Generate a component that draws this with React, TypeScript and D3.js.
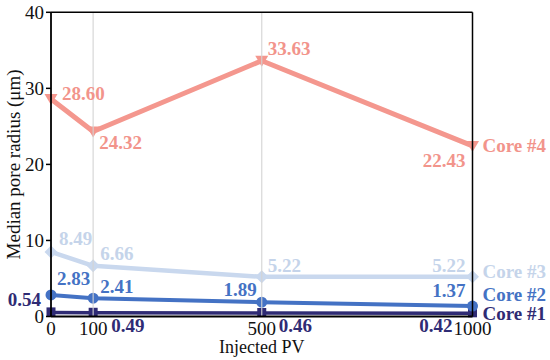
import React from "react";
import * as d3 from "d3";

const injectedPV = [0, 100, 500, 1000];
const xTicks = [0, 100, 500, 1000];
const yTicks = [0, 10, 20, 30, 40];
const gridX = [100, 500];
const seriesNames = ["Core #1", "Core #2", "Core #3", "Core #4"];
const core1 = [0.54, 0.49, 0.46, 0.42];
const core2 = [2.83, 2.41, 1.89, 1.37];
const core3 = [8.49, 6.66, 5.22, 5.22];
const core4 = [28.6, 24.32, 33.63, 22.43];

const W = 550;
const H = 360;
const L = 51, R = 472.5, T = 12.3, B = 316.5;
const FONT = "Times New Roman, Liberation Serif, serif";

type Lab = [number, number, "start" | "end"];

const styles = [
  { color: "#2F2B74", labelColor: "#2F2B74", width: 3.5, marker: "square",
    labels: [[-10, -6, "end"], [18, 19, "start"], [17, 19, "start"], [-20, 19, "end"]] as Lab[], name: [10, 7] },
  { color: "#4472C4", labelColor: "#4472C4", width: 4, marker: "circle",
    labels: [[6, -10, "start"], [7, -5, "start"], [-5, -6, "end"], [-7, -9, "end"]] as Lab[], name: [10, -5] },
  { color: "#C9D8EE", labelColor: "#C5D4EA", width: 4.5, marker: "diamond",
    labels: [[8, -7, "start"], [7, -6, "start"], [6, -5, "start"], [-7, -5, "end"]] as Lab[], name: [10, 1] },
  { color: "#F4978E", labelColor: "#F2948B", width: 5, marker: "triangle",
    labels: [[11, 1, "start"], [6, 17.5, "start"], [6, -6, "start"], [-7, 21, "end"]] as Lab[], name: [10, 6] },
];

const allSeries = [core1, core2, core3, core4];

function Marker({ kind, x, y, color }: { kind: string; x: number; y: number; color: string }) {
  if (kind === "square") return <rect x={x - 4.5} y={y - 5} width={9} height={9} fill={color} />;
  if (kind === "circle") return <circle cx={x} cy={y} r={5.5} fill={color} />;
  if (kind === "diamond")
    return <path d={`M${x},${y - 6.5}L${x + 6.5},${y}L${x},${y + 6.5}L${x - 6.5},${y}Z`} fill={color} />;
  return <path d={`M${x - 6.5},${y - 5}L${x + 6.5},${y - 5}L${x},${y + 6}Z`} fill={color} />;
}

export default function App() {
  const x = d3.scaleLinear().domain([0, 1000]).range([L, R]);
  const y = d3.scaleLinear().domain([0, 40]).range([B, T]);
  const line = d3
    .line<number>()
    .x((_, i) => x(injectedPV[i]))
    .y((d) => y(d));

  return (
    <div style={{ position: "absolute", left: 0, top: 0, fontFamily: FONT }}>
      <svg width={W} height={H} fontFamily={FONT} style={{ display: "block", background: "#fff", fontFamily: FONT }}>
        {allSeries.map((s, si) => {
          const st = styles[si];
          return (
            <g key={si}>
              <path d={line(s) || ""} fill="none" stroke={st.color} strokeWidth={st.width} strokeLinejoin="round" />
              {s.map((v, i) => (
                <Marker key={i} kind={st.marker} x={x(injectedPV[i])} y={y(v)} color={st.color} />
              ))}
            </g>
          );
        })}
        {gridX.map((g) => (
          <line key={g} x1={x(g)} x2={x(g)} y1={T} y2={B} stroke="#d4d4d4" strokeWidth={1.2} opacity={0.9} />
        ))}
        <line x1={L} x2={R} y1={T} y2={T} stroke="#000" strokeWidth={1.5} />
        <line x1={R} x2={R} y1={T} y2={B} stroke="#000" strokeWidth={1.5} />
        <line x1={L} x2={L} y1={T} y2={B} stroke="#000" strokeWidth={1.8} />
        <line x1={L} x2={R} y1={B} y2={B} stroke="#000" strokeWidth={1.8} />
        {yTicks.map((t) => (
          <g key={t}>
            <line x1={L - 5} x2={L} y1={y(t)} y2={y(t)} stroke="#000" strokeWidth={1.5} />
            <text fontFamily={FONT} x={L - 7} y={y(t) + 6.5} textAnchor="end" fontSize={19} fill="#111">
              {t}
            </text>
          </g>
        ))}
        {xTicks.map((t) => (
          <text fontFamily={FONT} key={t} x={x(t)} y={335} textAnchor="middle" fontSize={19} fill="#111">
            {t}
          </text>
        ))}
        <text fontFamily={FONT} x={(L + R) / 2} y={353} textAnchor="middle" fontSize={18} fill="#111">
          Injected PV
        </text>
        <text
          fontFamily={FONT}
          transform={`translate(20,${(T + B) / 2}) rotate(-90)`}
          textAnchor="middle"
          fontSize={19}
          fill="#111"
        >
          Median pore radius (μm)
        </text>
        {allSeries.map((s, si) => {
          const st = styles[si];
          const last = s.length - 1;
          return (
            <g key={si}>
              {s.map((v, i) => {
                const [dx, dy, anchor] = st.labels[i];
                return (
                  <text
                    key={i}
                    fontFamily={FONT}
                    fontWeight={700}
                    fontSize={19}
                    fill={st.labelColor}
                    x={x(injectedPV[i]) + dx}
                    y={y(v) + dy}
                    textAnchor={anchor}
                  >
                    {v.toFixed(2)}
                  </text>
                );
              })}
              <text
                fontFamily={FONT}
                fontWeight={700}
                fontSize={19}
                fill={st.labelColor}
                x={x(injectedPV[last]) + st.name[0]}
                y={y(s[last]) + st.name[1]}
              >
                {seriesNames[si]}
              </text>
            </g>
          );
        })}
      </svg>
    </div>
  );
}
